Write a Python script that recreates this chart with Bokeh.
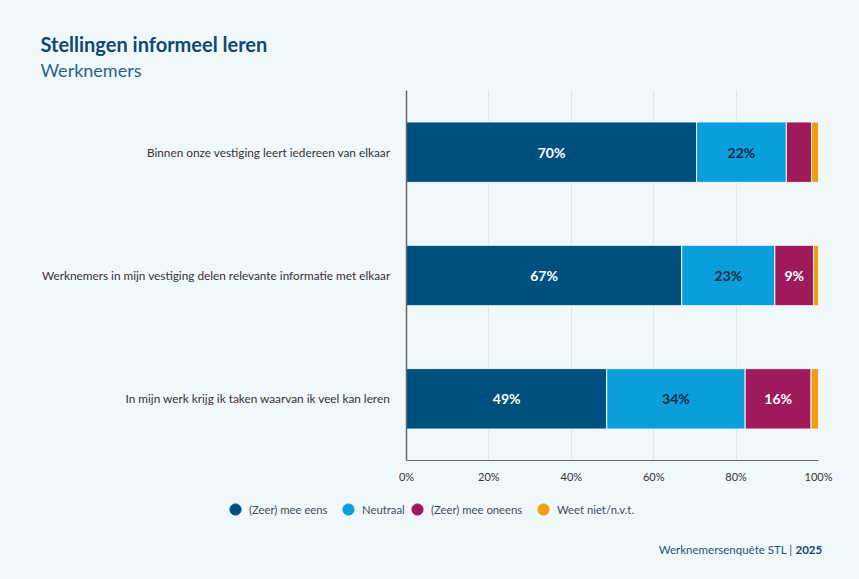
from bokeh.plotting import figure
from bokeh.layouts import column
from bokeh.models import (ColumnDataSource, Legend, LegendItem, NumeralTickFormatter,
                          FactorRange, Title, Label)
from bokeh.core.properties import value
from bokeh.embed import file_html
from bokeh.resources import INLINE

# ---- data ----
statements = [
    "Binnen onze vestiging leert iedereen van elkaar",
    "Werknemers in mijn vestiging delen relevante informatie met elkaar",
    "In mijn werk krijg ik taken waarvan ik veel kan leren",
]
series = ["(Zeer) mee eens", "Neutraal", "(Zeer) mee oneens", "Weet niet/n.v.t."]
mee_eens = [70.4, 66.8, 48.6]
neutraal = [21.8, 22.6, 33.6]
mee_oneens = [6.1, 9.4, 16.0]
weet_niet = [1.7, 1.2, 1.8]
x_ticks = [0, 20, 40, 60, 80, 100]

colors = ["#00507f", "#0a9fdc", "#9f1a5b", "#f39c12"]
label_colors = ["#ffffff", "#0d2a45", "#ffffff", "#ffffff"]
BG = "#f1f8fc"
FONT = "Lato"

values = [mee_eens, neutraal, mee_oneens, weet_niet]
keys = ["k0", "k1", "k2", "k3"]
data = {"cat": statements}
for k, v in zip(keys, values):
    data[k] = [x / 100 for x in v]
src = ColumnDataSource(data)

cats_rev = list(reversed(statements))

W = 859
H_MAIN = 487
H_FOOT = 92

p = figure(width=W, height=H_MAIN, y_range=FactorRange(*cats_rev, range_padding=0.0),
           x_range=(0, 1), output_backend="svg", toolbar_location=None,
           background_fill_color=BG, border_fill_color=BG,
           min_border_left=406, min_border_right=41, min_border_top=90,
           min_border_bottom=H_MAIN - 460)
p.outline_line_color = None
p.frame_align = False

renderers = p.hbar_stack(keys, y="cat", height=0.49, color=colors, source=src,
                         line_color=BG, line_width=1)

# labels in bars
for i, k in enumerate(keys):
    xs, ys, ts = [], [], []
    for j, cat in enumerate(statements):
        start = sum(values[m][j] for m in range(i)) / 100
        val = values[i][j]
        if val >= 8:
            xs.append(start + val / 200)
            ys.append(cat)
            ts.append(f"{round(val)}%")
    if xs:
        p.text(x=xs, y=ys, text=ts, text_align="center", text_baseline="middle",
               text_font=value(FONT), text_font_style="bold", text_font_size="14px",
               text_color=label_colors[i])

# axes
p.xaxis.ticker = [t / 100 for t in x_ticks]
p.xaxis.formatter = NumeralTickFormatter(format="0%")
p.xaxis.axis_line_color = "#666666"
p.xaxis.axis_line_width = 1.2
p.xaxis.major_tick_line_color = None
p.xaxis.minor_tick_line_color = None
p.xaxis.major_label_text_font = FONT
p.xaxis.major_label_text_font_size = "11px"
p.xaxis.major_label_text_color = "#333333"
p.xaxis.major_label_standoff = 3

p.yaxis.axis_line_color = "#666666"
p.yaxis.axis_line_width = 1.5
p.yaxis.major_tick_line_color = None
p.yaxis.minor_tick_line_color = None
p.yaxis.major_label_text_font = FONT
p.yaxis.major_label_text_font_size = "11.8px"
p.yaxis.major_label_text_color = "#333333"
p.yaxis.major_label_standoff = 10

p.xgrid.grid_line_color = "#dde5ec"
p.ygrid.grid_line_color = None

# title, subtitle
p.add_layout(Title(text="Werknemers", text_font=FONT, text_font_style="normal",
                   text_font_size="18px", text_color="#24658f", align="left",
                   offset=-366, standoff=20), "above")
p.add_layout(Title(text="Stellingen informeel leren", text_font=FONT,
                   text_font_style="bold", text_font_size="20px", text_color="#0d4a73",
                   align="left", offset=-366, standoff=-18), "above")

# footer figure with legend and source
f = figure(width=W, height=H_FOOT, x_range=(0, 1), y_range=(0, 1),
           output_backend="svg", toolbar_location=None,
           background_fill_color=BG, border_fill_color=BG,
           min_border_left=0, min_border_right=0, min_border_top=0, min_border_bottom=0,
           x_axis_location=None, y_axis_location=None)
f.outline_line_color = None
f.grid.grid_line_color = None
f.frame_align = False

legend_x = [221, 334, 403, 529]
for s, c, lx in zip(series, colors, legend_x):
    r = f.scatter(x=[-10], y=[-10], marker="circle", size=10, fill_color=c, line_color=c)
    lg = Legend(items=[LegendItem(label=s, renderers=[r])],
                orientation="horizontal", glyph_width=28, glyph_height=28,
                label_standoff=-5, spacing=0, border_line_color=None,
                background_fill_alpha=0, label_text_font=FONT,
                label_text_font_size="11.3px", label_text_color="#3a4c5e",
                location=(lx, H_FOOT - 36), margin=0, padding=0)
    f.add_layout(lg, "center")

f.add_layout(Label(x=792, y=H_FOOT - 62, x_units="screen", y_units="screen",
                   text="Werknemersenquête STL |", text_font=FONT, text_align="right",
                   text_baseline="middle", text_font_size="11.5px", text_color="#1f5478"))
f.add_layout(Label(x=795, y=H_FOOT - 62, x_units="screen", y_units="screen",
                   text="2025", text_font=FONT, text_align="left", text_baseline="middle",
                   text_font_style="bold", text_font_size="11.5px", text_color="#0d4a73"))

layout = column(p, f, spacing=0, styles={"background-color": BG})
open("out.html", "w").write(file_html(layout, INLINE))
